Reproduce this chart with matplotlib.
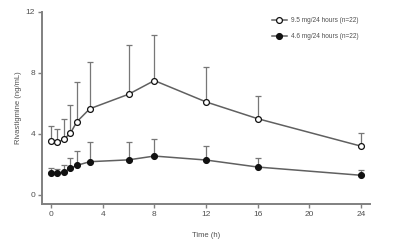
import numpy as np
import matplotlib

matplotlib.use("Agg")
from matplotlib import pyplot as plt

plt.rcParams["font.family"] = ["Liberation Sans", "DejaVu Sans"]

# Time points (h)
time_h = [0, 0.5, 1, 1.5, 2, 3, 6, 8, 12, 16, 24]

# 9.5 mg/24 hours: mean and upper SD end
high_mean = [3.55, 3.45, 3.65, 4.05, 4.8, 5.65, 6.6, 7.5, 6.1, 5.0, 3.2]
high_top = [4.5, 4.3, 4.95, 5.9, 7.4, 8.7, 9.8, 10.5, 8.4, 6.5, 4.05]

# 4.6 mg/24 hours: mean and upper SD end
low_mean = [1.45, 1.43, 1.5, 1.74, 1.94, 2.18, 2.3, 2.55, 2.29, 1.83, 1.29]
low_top = [1.78, 1.72, 1.96, 2.44, 2.9, 3.5, 3.44, 3.7, 3.2, 2.44, 1.63]

x_ticks = [0, 4, 8, 12, 16, 20, 24]
y_ticks = [0, 4, 8, 12]

line_col = "#606060"
mark_col = "#111111"
text_col = "#505050"

fig = plt.figure(figsize=(4, 2.48), dpi=100)
ax = fig.add_axes([0.105, 0.177, 0.82, 0.775])

for mean, top, face, label in [
    (high_mean, high_top, "white", "9.5 mg/24 hours (n=22)"),
    (low_mean, low_top, mark_col, "4.6 mg/24 hours (n=22)"),
]:
    mean = np.array(mean)
    up = np.array(top) - mean
    ax.errorbar(time_h, mean, yerr=[np.zeros_like(up), up], fmt="none",
                ecolor="#777777", elinewidth=0.9, capsize=2, capthick=0.9,
                zorder=1)
    ax.plot(time_h, mean, color=line_col, lw=1.1, marker="o",
            markersize=4.2, markerfacecolor=face, markeredgecolor=mark_col,
            markeredgewidth=0.9, label=label, zorder=3)

ax.set_xlim(-0.7, 24.7)
ax.set_ylim(-0.6, 12)
ax.set_xticks(x_ticks)
ax.set_yticks(y_ticks)
ax.spines["top"].set_visible(False)
ax.spines["right"].set_visible(False)
for s in ["left", "bottom"]:
    ax.spines[s].set_color("#808080")
    ax.spines[s].set_linewidth(1.4)
ax.tick_params(axis="both", colors="#808080", labelcolor=text_col,
               labelsize=6, length=3, width=1.0, pad=2)

ax.set_xlabel("Time (h)", fontsize=5.5, color=text_col, labelpad=10)
ax.set_ylabel("Rivastigmine (ng/mL)", fontsize=5.5, color=text_col,
              labelpad=3)

leg = fig.legend(loc="upper left", bbox_to_anchor=(0.673, 0.942),
                 fontsize=4.7, frameon=False, handlelength=2.3,
                 handletextpad=0.6, labelcolor=text_col,
                 borderaxespad=0.0, labelspacing=1.4)

fig.savefig("out.png", dpi=100)
plt.close()
